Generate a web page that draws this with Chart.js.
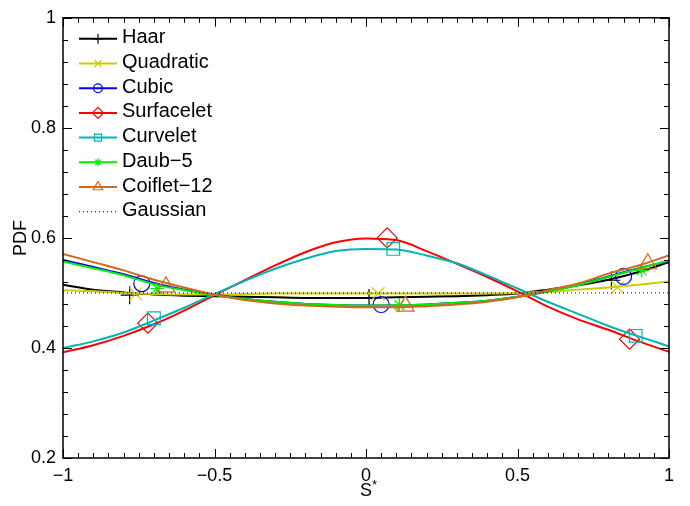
<!DOCTYPE html>
<html>
<head>
<meta charset="utf-8">
<script src="https://cdn.jsdelivr.net/npm/chart.js@4.4.1/dist/chart.umd.min.js"></script>
<style>
  html, body { margin: 0; padding: 0; background: #fff; }
</style>
</head>
<body>
<canvas id="chart" width="690" height="506"></canvas>
<script>
// S* sample positions
const sGrid = [-1, -0.9, -0.8, -0.7, -0.6, -0.5, -0.4, -0.3, -0.2, -0.1, 0, 0.1, 0.2, 0.3, 0.4, 0.5, 0.6, 0.7, 0.8, 0.9, 1];

// PDF per transform
const haar       = [0.515, 0.506, 0.501, 0.497, 0.495, 0.494, 0.493, 0.492, 0.491, 0.491, 0.491, 0.492, 0.493, 0.494, 0.496, 0.499, 0.506, 0.514, 0.524, 0.538, 0.556];
const quadratic  = [0.505, 0.503, 0.500, 0.498, 0.497, 0.497, 0.498, 0.499, 0.499, 0.499, 0.499, 0.499, 0.499, 0.499, 0.499, 0.500, 0.502, 0.506, 0.510, 0.515, 0.521];
const cubic      = [0.560, 0.547, 0.534, 0.518, 0.506, 0.497, 0.489, 0.484, 0.480, 0.478, 0.477, 0.477, 0.479, 0.482, 0.486, 0.493, 0.503, 0.515, 0.530, 0.545, 0.558];
const surfacelet = [0.392, 0.405, 0.422, 0.443, 0.468, 0.496, 0.523, 0.550, 0.574, 0.592, 0.599, 0.596, 0.576, 0.553, 0.529, 0.503, 0.475, 0.452, 0.433, 0.412, 0.393];
const curvelet   = [0.400, 0.412, 0.428, 0.450, 0.473, 0.498, 0.522, 0.544, 0.562, 0.576, 0.580, 0.579, 0.568, 0.554, 0.532, 0.508, 0.484, 0.462, 0.440, 0.421, 0.403];
const daub5      = [0.557, 0.545, 0.532, 0.516, 0.505, 0.496, 0.489, 0.484, 0.480, 0.478, 0.477, 0.477, 0.479, 0.482, 0.486, 0.493, 0.503, 0.514, 0.529, 0.544, 0.559];
const coiflet12  = [0.571, 0.556, 0.541, 0.524, 0.510, 0.497, 0.487, 0.481, 0.477, 0.475, 0.474, 0.474, 0.476, 0.479, 0.484, 0.492, 0.505, 0.517, 0.535, 0.550, 0.568];
const gaussX = [-1, 1];
const gaussY = [0.5, 0.5];

// marker positions (three per curve)
const haarMarkX = [-0.78, 0.01, 0.81],   haarMarkY = [0.496, 0.491, 0.523];
const quadMarkX = [-0.76, 0.04, 0.83],   quadMarkY = [0.498, 0.499, 0.510];
const cubicMarkX = [-0.74, 0.05, 0.85],  cubicMarkY = [0.517, 0.479, 0.530];
const surfMarkX = [-0.72, 0.07, 0.87],   surfMarkY = [0.445, 0.600, 0.416];
const curvMarkX = [-0.70, 0.09, 0.89],   curvMarkY = [0.454, 0.580, 0.422];
const daubMarkX = [-0.69, 0.11, 0.91],   daubMarkY = [0.508, 0.478, 0.541];
const coifMarkX = [-0.66, 0.13, 0.93],   coifMarkY = [0.511, 0.476, 0.553];

const xTicks = [-1, -0.5, 0, 0.5, 1];
const yTicks = [0.2, 0.4, 0.6, 0.8, 1];

const FONT = '"Liberation Sans", Arial, Helvetica, sans-serif';

const series = [
  { label: 'Haar',       color: '#000000', style: 'cross',    r: 9,  y: haar,       mx: haarMarkX,  my: haarMarkY },
  { label: 'Quadratic',  color: '#cccc00', style: 'crossRot', r: 9,  y: quadratic,  mx: quadMarkX,  my: quadMarkY },
  { label: 'Cubic',      color: '#0000ff', style: 'circle',   r: 8,  y: cubic,      mx: cubicMarkX, my: cubicMarkY },
  { label: 'Surfacelet', color: '#ff0000', style: 'rectRot',  r: 10, y: surfacelet, mx: surfMarkX,  my: surfMarkY },
  { label: 'Curvelet',   color: '#00b5b5', style: 'rect',     r: 9,  y: curvelet,   mx: curvMarkX,  my: curvMarkY },
  { label: 'Daub\u22125',    color: '#00ee00', style: 'star',     r: 7,  y: daub5,      mx: daubMarkX,  my: daubMarkY },
  { label: 'Coiflet\u221212', color: '#d2691e', style: 'triangle', r: 10, y: coiflet12,  mx: coifMarkX,  my: coifMarkY }
];

const datasets = [];
series.forEach((s, i) => {
  datasets.push({
    label: s.label,
    data: sGrid.map((x, k) => ({ x, y: s.y[k] })),
    showLine: true,
    borderColor: s.color,
    borderWidth: 2,
    pointRadius: 0,
    cubicInterpolationMode: 'monotone',
    order: 100 - 2 * i
  });
  datasets.push({
    label: s.label + ' markers',
    data: s.mx.map((x, k) => ({ x, y: s.my[k] })),
    showLine: false,
    pointStyle: s.style,
    pointRadius: s.r,
    pointBorderWidth: 1.2,
    borderColor: s.color,
    backgroundColor: 'rgba(0,0,0,0)',
    order: 99 - 2 * i
  });
});
datasets.push({
  label: 'Gaussian',
  data: gaussX.map((x, k) => ({ x, y: gaussY[k] })),
  showLine: true,
  borderColor: '#000000',
  borderWidth: 1,
  borderDash: [1, 3],
  pointRadius: 0,
  order: 0
});

const fmt = v => {
  const r = Math.round(v * 100) / 100;
  return (r < 0 ? '\u2212' : '') + String(Math.abs(r));
};

// inward ticks on all four sides plus the box
const frameTicks = {
  id: 'frameTicks',
  afterDraw(chart) {
    const { ctx, chartArea: a, scales: { x, y } } = chart;
    ctx.save();
    ctx.strokeStyle = '#000';
    ctx.lineWidth = 1;
    ctx.beginPath();
    for (let k = 0; k <= 40; k++) {
      const px = Math.round(x.getPixelForValue(-1 + k * 0.05)) + 0.5;
      const len = k % 10 === 0 ? 9 : 5;
      ctx.moveTo(px, a.bottom); ctx.lineTo(px, a.bottom - len);
      ctx.moveTo(px, a.top); ctx.lineTo(px, a.top + len);
    }
    for (let k = 0; k <= 20; k++) {
      const py = Math.round(y.getPixelForValue(0.2 + k * 0.04)) + 0.5;
      const len = k % 5 === 0 ? 9 : 5;
      ctx.moveTo(a.left, py); ctx.lineTo(a.left + len, py);
      ctx.moveTo(a.right, py); ctx.lineTo(a.right - len, py);
    }
    ctx.stroke();
    ctx.lineWidth = 1.5;
    ctx.strokeRect(a.left, a.top, a.right - a.left, a.bottom - a.top);

    // superscript star on the x title
    ctx.fillStyle = '#000';
    ctx.font = '13px ' + FONT;
    ctx.textBaseline = 'alphabetic';
    ctx.fillText('*', (a.left + a.right) / 2 + 6, 489);
    ctx.restore();
  }
};

// Matlab-style legend: line with marker, then label
const matLegend = {
  id: 'matLegend',
  afterDraw(chart) {
    const { ctx, chartArea: a } = chart;
    const x0 = a.left + 16, x1 = a.left + 54, xm = (x0 + x1) / 2;
    ctx.save();
    ctx.font = '20px ' + FONT;
    ctx.textBaseline = 'middle';
    const rows = series.concat([{ label: 'Gaussian', color: '#000000', dotted: true }]);
    rows.forEach((s, i) => {
      const yy = a.top + 21 + i * 24.7;
      ctx.strokeStyle = s.color;
      ctx.lineWidth = s.dotted ? 1 : 2;
      ctx.setLineDash(s.dotted ? [1, 3] : []);
      ctx.beginPath();
      ctx.moveTo(x0, yy); ctx.lineTo(x1, yy);
      ctx.stroke();
      ctx.setLineDash([]);
      if (!s.dotted) {
        ctx.fillStyle = 'rgba(0,0,0,0)';
        ctx.lineWidth = 1.2;
        Chart.helpers.drawPoint(ctx, { pointStyle: s.style, radius: s.r * 0.55, rotation: 0, borderWidth: 1.2 }, xm, yy);
      }
      ctx.fillStyle = '#000';
      ctx.fillText(s.label, a.left + 59, yy - 1);
    });
    ctx.restore();
  }
};

new Chart(document.getElementById('chart'), {
  type: 'scatter',
  data: { datasets },
  options: {
    responsive: false,
    animation: false,
    devicePixelRatio: 1,
    layout: { padding: { top: 13, right: 21, left: 0, bottom: 0 } },
    plugins: { legend: { display: false }, tooltip: { enabled: false } },
    scales: {
      x: {
        type: 'linear', min: -1, max: 1,
        afterFit: s => { s.height = 48; },
        afterBuildTicks: s => { s.ticks = xTicks.map(v => ({ value: v })); },
        grid: { display: false, drawTicks: false, tickLength: 0 },
        border: { display: false },
        ticks: { color: '#000', font: { family: FONT, size: 18 }, padding: 7, maxRotation: 0, callback: fmt },
        title: { display: true, text: 'S', color: '#000', font: { family: FONT, size: 18 }, padding: { top: 0, bottom: 4 } }
      },
      y: {
        type: 'linear', min: 0.2, max: 1,
        afterFit: s => { s.width = 63; },
        afterBuildTicks: s => { s.ticks = yTicks.map(v => ({ value: v })); },
        grid: { display: false, drawTicks: false, tickLength: 0 },
        border: { display: false },
        ticks: { color: '#000', font: { family: FONT, size: 18 }, padding: 7, callback: fmt },
        title: { display: true, text: 'PDF', color: '#000', font: { family: FONT, size: 18 }, padding: { top: 10, bottom: 0 } }
      }
    }
  },
  plugins: [frameTicks, matLegend]
});
</script>
</body>
</html>
